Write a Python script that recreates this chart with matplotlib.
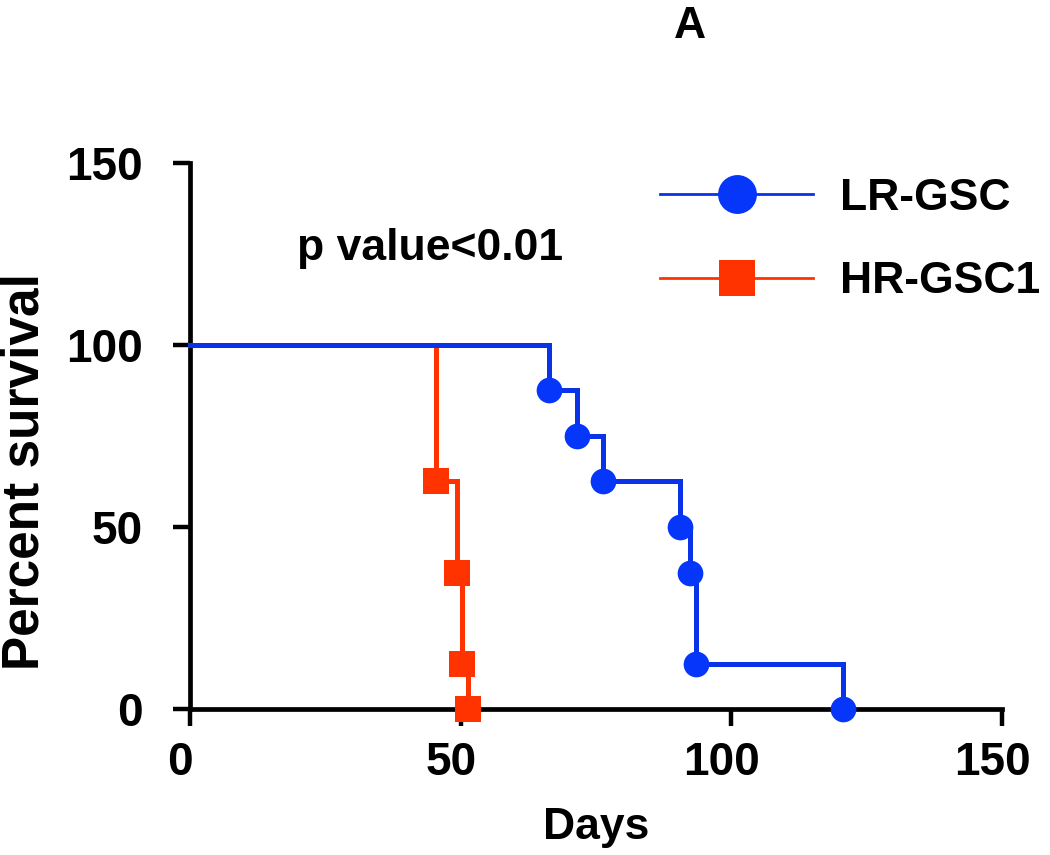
import matplotlib
matplotlib.use("Agg")
import matplotlib.pyplot as plt
import matplotlib.transforms as mtransforms
from matplotlib.lines import Line2D

plt.rcParams["font.family"] = ["Liberation Sans", "DejaVu Sans"]
plt.rcParams["font.weight"] = "bold"

# Kaplan-Meier event times (days) and survival (%) after each event
lr_days = [66.3, 71.5, 76.3, 90.5, 92.4, 93.5, 120.6]
lr_surv = [87.5, 75.0, 62.5, 50.0, 37.5, 12.5, 0.0]
hr_days = [45.4, 49.3, 50.2, 51.4]
hr_surv = [62.5, 37.5, 12.5, 0.0]

labels = ["LR-GSC", "HR-GSC1"]
x_ticks = [0, 50, 100, 150]
y_ticks = [0, 50, 100, 150]

BLUE_LINE = "#0a32e6"
BLUE_MARK = "#0536fa"
RED = "#ff3300"

fig = plt.figure(figsize=(10.5, 8.55), dpi=100)
ax = fig.add_axes([190 / 1050, 1 - 709 / 855, (1002 - 190) / 1050, (709 - 163) / 855])

# red first so the blue curve sits on top along the 100% line
for days, surv, lc, mc, mk, z in [
    (hr_days, hr_surv, RED, RED, "s", 3),
    (lr_days, lr_surv, BLUE_LINE, BLUE_MARK, "o", 5),
]:
    ax.step([0] + days, [100] + surv, where="post", color=lc, lw=3.6,
            solid_joinstyle="miter", clip_on=False, zorder=z)
    ax.plot(days, surv, ls="none", marker=mk, ms=18.5, color=mc,
            markeredgewidth=0, clip_on=False, zorder=z + 1)

ax.set_xlim(0, 150)
ax.set_ylim(0, 150)
ax.set_xticks(x_ticks)
ax.set_yticks(y_ticks)
ax.tick_params(axis="both", direction="out", length=12, width=3.2,
               labelsize=33, color="black")
ax.tick_params(axis="x", pad=11)
ax.tick_params(axis="y", pad=22)
for lab in ax.get_xticklabels() + ax.get_yticklabels():
    lab.set_fontweight("bold")
shift = mtransforms.ScaledTranslation(-10 / 100, 0, fig.dpi_scale_trans)
for lab in ax.get_xticklabels():
    lab.set_transform(lab.get_transform() + shift)

for side in ["top", "right"]:
    ax.spines[side].set_visible(False)
for side in ["left", "bottom"]:
    ax.spines[side].set_linewidth(3.4)

ax.set_xlabel("Days", fontsize=32, fontweight="bold", labelpad=16)
fig.text(25 / 1050, 1 - 472 / 855, "Percent survival", rotation=90,
         fontsize=37, fontweight="bold", ha="center", va="center")
fig.text(690 / 1050, 1 - 27 / 855, "A", fontsize=32, fontweight="bold",
         ha="center", va="center")
fig.text(297 / 1050, 1 - 260 / 855, "p value<0.01", fontsize=32,
         fontweight="bold", ha="left", va="baseline")

handles = [
    Line2D([], [], color=BLUE_LINE, lw=2, marker="o", ms=28, mfc=BLUE_MARK,
           mew=0),
    Line2D([], [], color=RED, lw=2, marker="s", ms=26, mfc=RED, mew=0),
]
leg = fig.legend(handles, labels, loc="upper left",
                 bbox_to_anchor=(660 / 1050, 1 - 178 / 855),
                 frameon=False, fontsize=32, handlelength=3.45,
                 handletextpad=0.6, labelspacing=0.95, borderpad=0,
                 borderaxespad=0)
for t in leg.get_texts():
    t.set_fontweight("bold")

fig.savefig("out.png", dpi=100)
